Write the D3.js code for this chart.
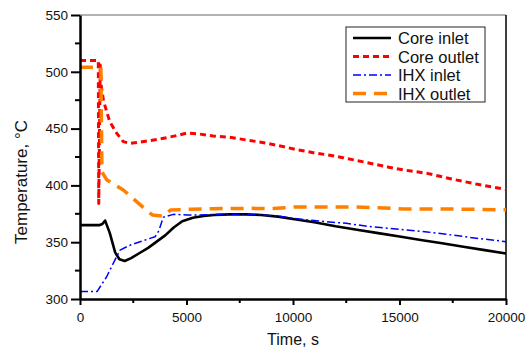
<!DOCTYPE html>
<html>
<head>
<meta charset="utf-8">
<script src="https://cdn.jsdelivr.net/npm/d3@7"></script>
<style>
  body { margin: 0; background: #fff; }
  text { font-family: Arial, "Liberation Sans", sans-serif; fill: #111; }
</style>
</head>
<body>
<div id="chart"></div>
<script>
// time (s) and temperature (°C)
const coreInletTime = [0, 900, 1050, 1180, 1400, 1650, 1850, 2100, 2400, 2800, 3200, 3600, 4000, 4400, 4800, 5300, 5800, 6300, 7000, 7800, 8500, 9300, 10000, 11000, 12000, 13000, 14000, 15000, 16000, 17000, 18000, 19000, 20000];
const coreInletTemp = [365, 365, 366, 369, 358, 341, 335, 333.5, 336, 340.5, 345, 350.5, 356, 363, 368.5, 371.5, 373, 374, 374.5, 374.5, 374, 372.5, 370.5, 367.5, 364, 361, 358, 355, 352, 349, 346, 343, 340];

const coreOutletTime = [0, 860, 880, 950, 1000, 1100, 1250, 1400, 1720, 2030, 2350, 2800, 3300, 3800, 4200, 4700, 5000, 5500, 6250, 7000, 7800, 8500, 9400, 10100, 10950, 11650, 12350, 13500, 14500, 15200, 16300, 17450, 18600, 20000];
const coreOutletTemp = [510, 510, 384, 506, 487, 475, 465, 456, 446, 438.5, 437, 438, 439.5, 441, 442.5, 444.5, 446, 445.5, 443.5, 442.5, 440, 438, 434.7, 431.8, 428.8, 426.8, 424.4, 420, 416, 413.6, 410.6, 405.6, 401.2, 396.5];

const ihxInletTime = [0, 800, 1250, 1720, 1880, 2300, 2820, 3520, 3700, 3910, 4380, 5000, 5600, 6500, 7500, 8500, 9300, 10000, 11000, 12500, 13500, 15000, 16300, 17500, 18600, 20000];
const ihxInletTemp = [306.5, 306.5, 319.6, 337.3, 343, 347, 350.4, 354.8, 360, 372, 374.5, 374, 374, 374.5, 374.5, 374, 373, 371, 369, 366.6, 364, 361.3, 359, 356.3, 353.5, 350.5];

const ihxOutletTime = [0, 980, 1030, 1250, 1600, 2030, 2660, 3200, 3400, 3900, 4250, 5200, 6250, 8000, 9000, 10100, 11700, 12800, 14000, 15200, 17500, 19700, 20000];
const ihxOutletTemp = [504, 504, 412, 405, 401, 396, 385.7, 376.8, 374, 373, 378.3, 379, 379.5, 379.8, 379.5, 381, 381, 381, 380.4, 379.2, 379.2, 378.6, 378.6];

const seriesNames = ['Core inlet', 'Core outlet', 'IHX inlet', 'IHX outlet'];
const xTicks = [0, 5000, 10000, 15000, 20000];
const yTicks = [300, 350, 400, 450, 500, 550];

const series = [
  { name: seriesNames[0], t: coreInletTime, v: coreInletTemp, color: '#000', width: 2.6, dash: null },
  { name: seriesNames[1], t: coreOutletTime, v: coreOutletTemp, color: '#ff0000', width: 3, dash: '6,4' },
  { name: seriesNames[2], t: ihxInletTime, v: ihxInletTemp, color: '#0000ff', width: 1.5, dash: '8,3,2,3' },
  { name: seriesNames[3], t: ihxOutletTime, v: ihxOutletTemp, color: '#ff8000', width: 3.5, dash: '13,8' }
];

const W = 531, H = 349;
const margin = { top: 15, right: 25, bottom: 50, left: 80 };
const width = W - margin.left - margin.right;
const height = H - margin.top - margin.bottom + 0.3;

const svg = d3.select('#chart').append('svg')
  .attr('width', W)
  .attr('height', H);

const g = svg.append('g')
  .attr('transform', `translate(${margin.left},${margin.top})`);

const x = d3.scaleLinear().domain([0, 20000]).range([0, 426]);
const y = d3.scaleLinear().domain([300, 550]).range([284, 0]);

// frame: thin top and right
g.append('line').attr('x1', 0).attr('x2', x(20000)).attr('y1', 0).attr('y2', 0)
  .attr('stroke', '#666').attr('stroke-width', 1);
g.append('line').attr('x1', x(20000)).attr('x2', x(20000)).attr('y1', 0).attr('y2', y(300))
  .attr('stroke', '#000').attr('stroke-width', 1.5);

// lines
const line = d3.line()
  .x((d) => x(d[0]))
  .y((d) => y(d[1]));

series.forEach((s) => {
  const pts = s.t.map((t, i) => [t, s.v[i]]);
  g.append('path')
    .datum(pts)
    .attr('d', line)
    .attr('fill', 'none')
    .attr('stroke', s.color)
    .attr('stroke-width', s.width)
    .attr('stroke-dasharray', s.dash)
    .attr('stroke-linejoin', 'round');
});

// x axis
const xAxis = g.append('g')
  .attr('transform', `translate(0,${y(300)})`)
  .call(d3.axisBottom(x).tickValues(xTicks).tickSize(6).tickSizeOuter(0).tickFormat(d3.format('d')));
xAxis.select('.domain').attr('stroke-width', 2.5);
xAxis.selectAll('.tick line').attr('stroke-width', 2);
xAxis.selectAll('.tick text').attr('font-size', 13.5).attr('dy', '1.05em');
xAxis.append('g').selectAll('line')
  .data([2500, 7500, 12500, 17500])
  .enter().append('line')
  .attr('x1', (d) => x(d)).attr('x2', (d) => x(d))
  .attr('y1', 0).attr('y2', 4)
  .attr('stroke', '#000').attr('stroke-width', 2);

// y axis
const yAxis = g.append('g')
  .call(d3.axisLeft(y).tickValues(yTicks).tickSize(9).tickSizeOuter(0));
yAxis.select('.domain').attr('stroke-width', 2.5);
yAxis.selectAll('.tick line').attr('stroke-width', 2);
yAxis.selectAll('.tick text').attr('font-size', 13.5).attr('x', -12);
yAxis.append('g').selectAll('line')
  .data([325, 375, 425, 475, 525])
  .enter().append('line')
  .attr('x1', -5).attr('x2', 0)
  .attr('y1', (d) => y(d)).attr('y2', (d) => y(d))
  .attr('stroke', '#000').attr('stroke-width', 2);

// axis titles
g.append('text')
  .attr('x', x(10000))
  .attr('y', 330)
  .attr('text-anchor', 'middle')
  .attr('font-size', 16)
  .text('Time, s');

svg.append('text')
  .attr('transform', 'translate(27,182) rotate(-90)')
  .attr('text-anchor', 'middle')
  .attr('font-size', 17)
  .text('Temperature, °C');

// legend
const legend = svg.append('g').attr('transform', 'translate(346,27)');
legend.append('rect')
  .attr('width', 139).attr('height', 75)
  .attr('fill', '#fff').attr('stroke', '#222').attr('stroke-width', 1);

series.forEach((s, i) => {
  const ly = 11 + i * 18.5;
  legend.append('line')
    .attr('x1', 7).attr('x2', 45)
    .attr('y1', ly).attr('y2', ly)
    .attr('stroke', s.color)
    .attr('stroke-width', s.width)
    .attr('stroke-dasharray', s.dash);
  legend.append('text')
    .attr('x', 52)
    .attr('y', ly + 6)
    .attr('font-size', 16.5)
    .text(s.name);
});
</script>
</body>
</html>
